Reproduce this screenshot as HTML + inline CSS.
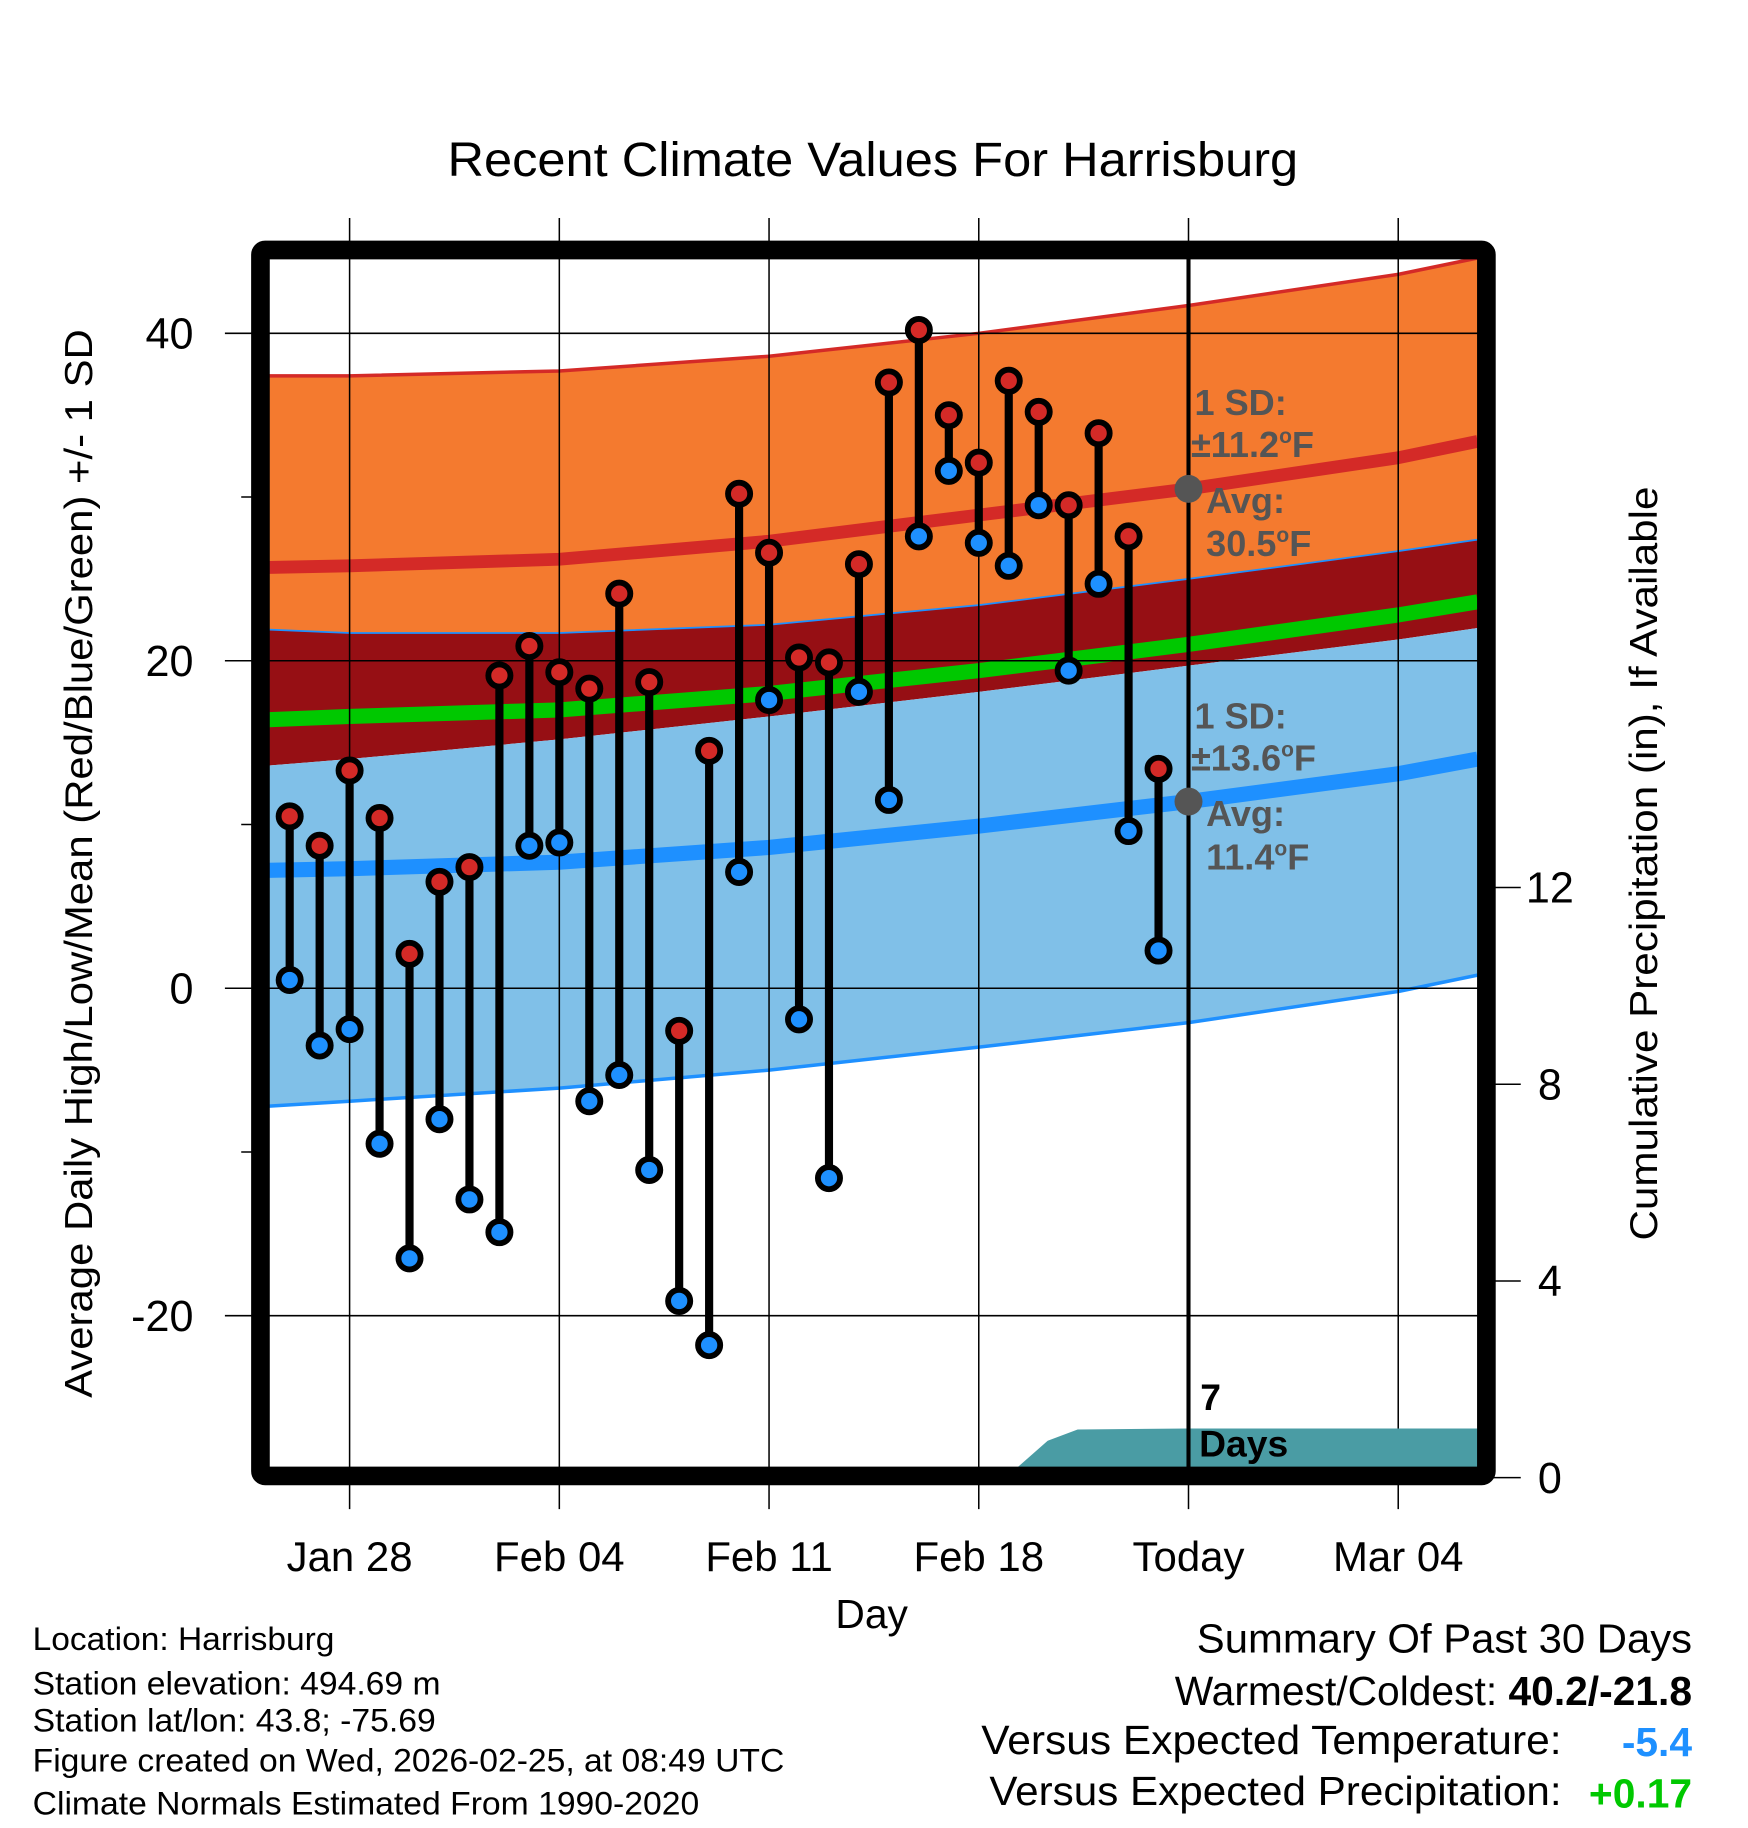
<!DOCTYPE html>
<html><head><meta charset="utf-8"><style>
html,body{margin:0;padding:0;background:#fff}
svg{display:block}
text{font-family:"Liberation Sans",sans-serif}
</style></head><body>
<svg id="chart" width="1748" height="1828" viewBox="0 0 1500 1568.6" xmlns="http://www.w3.org/2000/svg">
<text x="749" y="151" font-size="41" text-anchor="middle" textLength="730" lengthAdjust="spacingAndGlyphs">Recent Climate Values For Harrisburg</text>
<g id="bands"></g>
<g id="grid"></g>
<g id="precip"></g>
<g id="today"></g>
<g id="points"></g>
<g id="labels"></g>
<rect x="223.5" y="214.5" width="1052" height="1052" fill="none" stroke="#000" stroke-width="16" rx="4"/>
<text transform="translate(79,741) rotate(-90)" font-size="33" text-anchor="middle" textLength="917" lengthAdjust="spacingAndGlyphs">Average Daily High/Low/Mean (Red/Blue/Green) +/- 1 SD</text>
<text transform="translate(1422,741) rotate(-90)" font-size="33" text-anchor="middle" textLength="647" lengthAdjust="spacingAndGlyphs">Cumulative Precipitation (in), If Available</text>
<text x="748" y="1397" font-size="35" text-anchor="middle">Day</text>
<g font-size="28">
<text x="28" y="1416" textLength="259" lengthAdjust="spacingAndGlyphs">Location: Harrisburg</text>
<text x="28" y="1454" textLength="350" lengthAdjust="spacingAndGlyphs">Station elevation: 494.69 m</text>
<text x="28" y="1486" textLength="346" lengthAdjust="spacingAndGlyphs">Station lat/lon: 43.8; -75.69</text>
<text x="28" y="1520" textLength="645" lengthAdjust="spacingAndGlyphs">Figure created on Wed, 2026-02-25, at 08:49 UTC</text>
<text x="28" y="1557" textLength="572" lengthAdjust="spacingAndGlyphs">Climate Normals Estimated From 1990-2020</text>
</g>
<g font-size="35" text-anchor="end">
<text x="1452" y="1418" textLength="425" lengthAdjust="spacingAndGlyphs">Summary Of Past 30 Days</text>
<text x="1452" y="1463">Warmest/Coldest: <tspan font-weight="bold">40.2/-21.8</tspan></text>
<text x="1340" y="1505" textLength="498" lengthAdjust="spacingAndGlyphs">Versus Expected Temperature:</text>
<text x="1452" y="1507" font-weight="bold" fill="#1e90ff">-5.4</text>
<text x="1340" y="1549" textLength="491" lengthAdjust="spacingAndGlyphs">Versus Expected Precipitation:</text>
<text x="1452" y="1551" font-weight="bold" fill="#00c800">+0.17</text>
</g>
</svg>
<script>
const days=[-2,-1,0,1,2,3,4,5,6,7,8,9,10,11,12,13,14,15,16,17,18,19,20,21,22,23,24,25,26,27];
const highs=[10.5,8.7,13.3,10.4,2.1,6.5,7.4,19.1,20.9,19.3,18.3,24.1,18.7,-2.6,14.5,30.2,26.6,20.2,19.9,25.9,37.0,40.2,35.0,32.1,37.1,35.2,29.5,33.9,27.6,13.4];
const lows=[0.5,-3.5,-2.5,-9.5,-16.5,-8,-12.9,-14.9,8.7,8.9,-6.9,-5.3,-11.1,-19.1,-21.8,7.1,17.6,-1.9,-11.6,18.1,11.5,27.6,31.6,27.2,25.8,29.5,19.4,24.7,9.6,2.3];
const normDays=[-2.7,0,7,14,21,28,35,37.7];
const highAvg=[25.7,25.8,26.2,27.3,28.9,30.5,32.4,33.4];
const highUp=[37.4,37.4,37.7,38.6,40.0,41.7,43.6,44.6];
const highLo=[21.9,21.7,21.7,22.2,23.4,25.0,26.7,27.4];
const lowAvg=[7.2,7.3,7.7,8.6,9.9,11.4,13.1,14.0];
const lowUp=[13.6,14.0,15.2,16.6,18.1,19.7,21.3,22.0];
const lowLo=[-7.2,-6.9,-6.1,-5.0,-3.6,-2.1,-0.2,0.8];
const meanAvg=[16.4,16.6,17.0,18.0,19.4,21.0,22.8,23.6];
const precipDays=[-2.7,22.3,23.3,24.3,28,37.7];
const precipVals=[0,0,0.75,0.98,1.0,1.0];
const yTicks=[40,20,0,-20];
const yMinor=[30,10,-10];
const y2Ticks=[0,4,8,12];
const xTickDays=[0,7,14,21,28,35];
const xTickLabels=["Jan 28","Feb 04","Feb 11","Feb 18","Today","Mar 04"];
const todayDay=28;

const NS="http://www.w3.org/2000/svg";
const X=d=>300+25.71*d;
const Y=v=>848-14.05*v;
const Y2=p=>1268-42.2*p;
const PL=231,PR=1268,PT=222,PB=1259;
function mk(tag,attrs,parent){const e=document.createElementNS(NS,tag);for(const k in attrs)e.setAttribute(k,attrs[k]);parent.appendChild(e);return e;}
function clampX(x){return Math.max(PL,Math.min(PR,x));}
function line(vals){return normDays.map((d,i)=>clampX(X(d))+","+Y(vals[i])).join(" L");}
function band(up,lo){
  let s="M"+normDays.map((d,i)=>clampX(X(d))+","+Y(up[i])).join(" L");
  for(let i=normDays.length-1;i>=0;i--)s+=" L"+clampX(X(normDays[i]))+","+Y(lo[i]);
  return s+"Z";
}
const bands=document.getElementById('bands');
let e;
e=mk('path',{d:band(highUp,highLo),fill:'#f47a2f'},bands);


e=mk('path',{d:band(highLo,lowUp),fill:'#960f14'},bands);


e=mk('path',{d:band(lowUp,lowLo),fill:'#80c0e8'},bands);


e=mk('path',{d:"M"+line(highUp),fill:'none',stroke:'#d42a27','stroke-width':3},bands);


e=mk('path',{d:"M"+line(highLo),fill:'none',stroke:'#1e90ff','stroke-width':1.5},bands);


e=mk('path',{d:"M"+line(lowLo),fill:'none',stroke:'#1e90ff','stroke-width':3},bands);


e=mk('path',{d:"M"+line(meanAvg),fill:'none',stroke:'#00c800','stroke-width':13},bands);


e=mk('path',{d:"M"+line(highAvg),fill:'none',stroke:'#d42a27','stroke-width':11},bands);


e=mk('path',{d:"M"+line(lowAvg),fill:'none',stroke:'#1e90ff','stroke-width':13},bands);



const grid=document.getElementById('grid');
const lab=document.getElementById('labels');
yTicks.forEach(v=>{
  e=mk('line',{x1:193,x2:PR,y1:Y(v),y2:Y(v),stroke:'#000','stroke-width':1.3},grid);
  
  
  e=mk('text',{x:166,y:Y(v)+13,'font-size':37,'text-anchor':'end'},lab);
  e.textContent=v;
  
  
});
yMinor.forEach(v=>{
  e=mk('line',{x1:207,x2:PL,y1:Y(v),y2:Y(v),stroke:'#000','stroke-width':1.3},grid);
  
  
});
y2Ticks.forEach(p=>{
  e=mk('line',{x1:1280,x2:1305,y1:Y2(p),y2:Y2(p),stroke:'#000','stroke-width':1.3},grid);
  
  
  e=mk('text',{x:1330,y:Y2(p)+13,'font-size':37,'text-anchor':'middle'},lab);
  e.textContent=p;
  
  
});
xTickDays.forEach((d,i)=>{
  e=mk('line',{x1:X(d),x2:X(d),y1:187,y2:1295,stroke:'#000','stroke-width':1.3},grid);
  
  
  e=mk('text',{x:X(d),y:1348,'font-size':36,'text-anchor':'middle'},lab);
  e.textContent=xTickLabels[i];
  
  
});

const pg=document.getElementById('precip');
let ps="M"+clampX(X(precipDays[0]))+","+PB;
precipDays.forEach((d,i)=>{ps+=" L"+clampX(X(d))+","+Math.min(PB,Y2(precipVals[i]));});
ps+=" L"+clampX(X(precipDays[precipDays.length-1]))+","+PB+"Z";
e=mk('path',{d:ps,fill:'#4a9ca4'},pg);



const tg=document.getElementById('today');
e=mk('line',{x1:X(todayDay),x2:X(todayDay),y1:PT,y2:PB,stroke:'#000','stroke-width':3.5},tg);


e=mk('circle',{cx:X(todayDay),cy:Y(highAvg[5]),r:12,fill:'#555'},tg);


e=mk('circle',{cx:X(todayDay),cy:Y(lowAvg[5]),r:12,fill:'#555'},tg);



const pts=document.getElementById('points');
days.forEach((d,i)=>{
  const x=X(d);
  e=mk('line',{x1:x,x2:x,y1:Y(highs[i]),y2:Y(lows[i]),stroke:'#000','stroke-width':7},pts);
  
  
});
days.forEach((d,i)=>{
  const x=X(d);
  e=mk('circle',{cx:x,cy:Y(highs[i]),r:9.5,fill:'#d42a27',stroke:'#000','stroke-width':5},pts);
  
  
  e=mk('circle',{cx:x,cy:Y(lows[i]),r:9.5,fill:'#1e90ff',stroke:'#000','stroke-width':5},pts);
  
  
});

function annot(txt,x,y,name,color,size){
  const t=mk('text',{x:x,y:y,'font-size':size||31,'font-weight':'bold',fill:color||'#555'},lab);
  t.innerHTML=txt;
  
  
}
annot('1 SD:',1025,356,'high-sd-label');
annot('±11.2<tspan dy="-12" font-size="18">o</tspan><tspan dy="12">F</tspan>',1022,392,'high-sd-value');
annot('Avg:',1035,440,'high-avg-label');
annot('30.5<tspan dy="-12" font-size="18">o</tspan><tspan dy="12">F</tspan>',1035,477,'high-avg-value');
annot('1 SD:',1025,625,'low-sd-label');
annot('±13.6<tspan dy="-12" font-size="18">o</tspan><tspan dy="12">F</tspan>',1022,661,'low-sd-value');
annot('Avg:',1035,709,'low-avg-label');
annot('11.4<tspan dy="-12" font-size="18">o</tspan><tspan dy="12">F</tspan>',1035,746,'low-avg-value');
annot('7',1030,1210,'precip-days-number','#000',32);
annot('Days',1029,1250,'precip-days-label','#000',32);
</script>
</body></html>
